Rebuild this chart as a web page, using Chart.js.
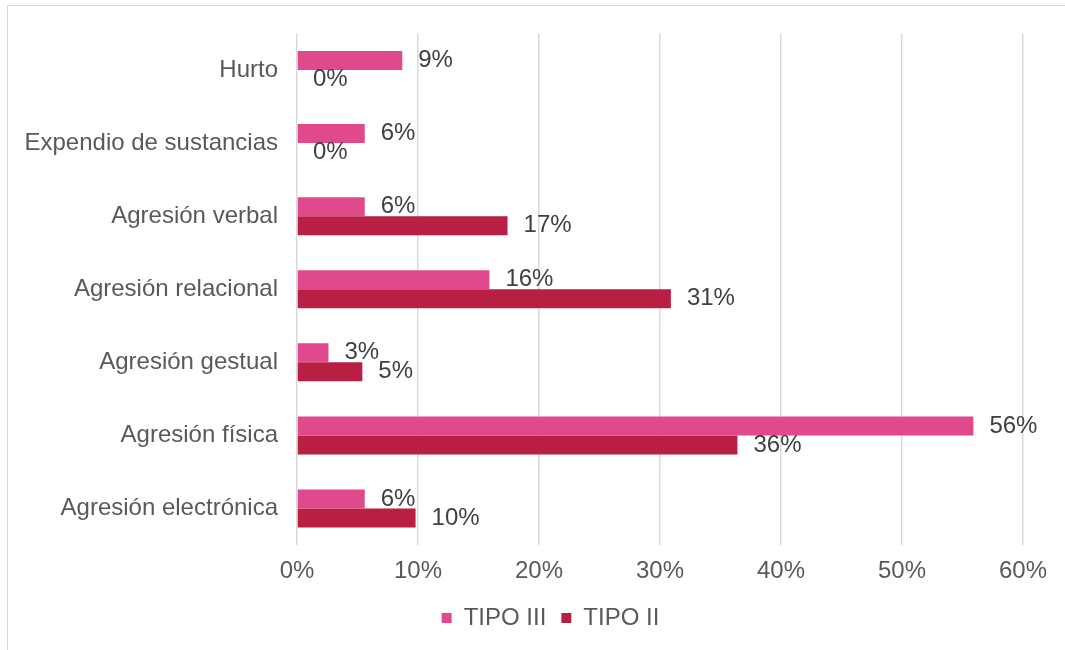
<!DOCTYPE html>
<html>
<head>
<meta charset="utf-8">
<script src="https://cdn.jsdelivr.net/npm/chart.js@4.4.1/dist/chart.umd.min.js"></script>
<style>
  html, body { margin: 0; padding: 0; overflow: hidden; background: #fff; }
  #frame {
    position: absolute; left: 7px; top: 5px;
    width: 1100px; height: 700px;
    border: 1px solid #d9d9d9;
  }
  #wrap { position: absolute; left: 0; top: 0; width: 1076px; height: 644px; }
</style>
</head>
<body>
<div id="frame">
  <div id="wrap"><canvas id="chart"></canvas></div>
</div>
<script>
// categories, top to bottom
const categories = [
  'Hurto',
  'Expendio de sustancias',
  'Agresión verbal',
  'Agresión relacional',
  'Agresión gestual',
  'Agresión física',
  'Agresión electrónica'
];

// percentages
const tipoIII = [8.7, 5.6, 5.6, 15.9, 2.6, 55.9, 5.6];
const tipoII = [0, 0, 17.4, 30.9, 5.4, 36.4, 9.8];

const xTicks = [0, 10, 20, 30, 40, 50, 60];

const FONT = '"Liberation Sans", Arial, Helvetica, sans-serif';

// draw the value next to the end of each bar
const barLabels = {
  id: 'barLabels',
  afterDatasetsDraw(chart) {
    const ctx = chart.ctx;
    ctx.save();
    ctx.font = '24px ' + FONT;
    ctx.fillStyle = '#404040';
    ctx.textAlign = 'left';
    ctx.textBaseline = 'middle';
    chart.data.datasets.forEach((ds, i) => {
      const meta = chart.getDatasetMeta(i);
      meta.data.forEach((bar, j) => {
        ctx.fillText(Math.round(ds.data[j]) + '%', bar.x + 16, bar.y);
      });
    });
    ctx.restore();
  }
};

// the legend is centred on the whole frame, not on the padded area
const legendShift = {
  id: 'legendShift',
  afterLayout(chart) {
    chart.legend.left += 35;
    chart.legend.right += 35;
  }
};

new Chart(document.getElementById('chart'), {
  type: 'bar',
  data: {
    labels: categories,
    datasets: [
      {
        label: 'TIPO III',
        data: tipoIII,
        backgroundColor: '#e0498c',
        categoryPercentage: 0.52,
        barPercentage: 1
      },
      {
        label: 'TIPO II',
        data: tipoII,
        backgroundColor: '#b91f43',
        categoryPercentage: 0.52,
        barPercentage: 1
      }
    ]
  },
  options: {
    indexAxis: 'y',
    responsive: true,
    maintainAspectRatio: false,
    animation: false,
    layout: { padding: { top: 27.5, right: 61, bottom: 10, left: 0 } },
    plugins: {
      legend: {
        position: 'bottom',
        labels: {
          boxWidth: 10,
          boxHeight: 10,
          padding: 15,
          color: '#595959',
          font: { family: FONT, size: 24 }
        }
      },
      tooltip: { enabled: false }
    },
    scales: {
      x: {
        min: 0,
        max: 60,
        afterBuildTicks(scale) {
          scale.ticks = xTicks.map(v => ({ value: v }));
        },
        afterFit(scale) { scale.height = 46; },
        ticks: {
          padding: 12,
          color: '#595959',
          font: { family: FONT, size: 24 },
          callback: v => v + '%'
        },
        grid: { color: '#d9d9d9', lineWidth: 1.5, drawTicks: false },
        border: { display: false }
      },
      y: {
        afterFit(scale) {
          scale.width = 289;
          scale.paddingTop = 0;
          scale.paddingBottom = 0;
        },
        ticks: {
          padding: 19,
          color: '#595959',
          font: { family: FONT, size: 24 }
        },
        grid: { display: false, drawTicks: false },
        border: { display: false }
      }
    }
  },
  plugins: [barLabels, legendShift]
});
</script>
</body>
</html>
